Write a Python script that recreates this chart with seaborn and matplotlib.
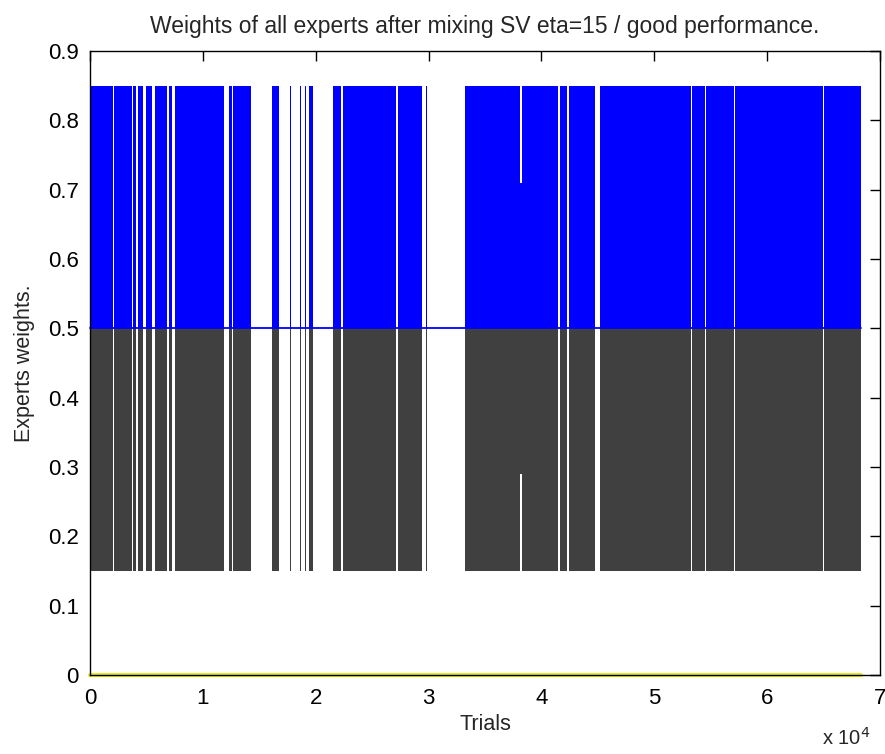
import matplotlib
matplotlib.use("Agg")
import matplotlib.pyplot as plt
import numpy as np
import pandas as pd
import seaborn as sns

# ---- data (trials) ----
seg_start = [0, 2130, 3810, 4250, 4920, 5760, 7000, 7530, 12320, 12670,
             16130, 17680, 18650, 19010, 19410, 21530, 22420, 27250, 29770,
             33230, 38060, 38280, 41650, 42440, 45190, 53340, 54580, 57150, 65080]
seg_end = [2000, 3680, 4120, 4740, 5490, 6820, 7270, 11870, 12540, 14270,
           16750, 17770, 18740, 19100, 19760, 22240, 27120, 29420, 29860,
           38060, 38280, 41510, 42310, 44790, 53210, 54450, 57020, 64910, 68320]
blue_top = [0.85, 0.85, 0.85, 0.85, 0.85, 0.85, 0.85, 0.85, 0.85, 0.85,
            0.85, 0.85, 0.85, 0.85, 0.85, 0.85, 0.85, 0.85, 0.85,
            0.85, 0.71, 0.85, 0.85, 0.85, 0.85, 0.85, 0.85, 0.85, 0.85]
gray_bottom = [0.15, 0.15, 0.15, 0.15, 0.15, 0.15, 0.15, 0.15, 0.15, 0.15,
               0.15, 0.15, 0.15, 0.15, 0.15, 0.15, 0.15, 0.15, 0.15,
               0.15, 0.29, 0.15, 0.15, 0.15, 0.15, 0.15, 0.15, 0.15, 0.15]
mid_level = 0.5
trial_range = [0, 68320]
low_level = [0.0, 0.0]
xtick_vals = [0, 10000, 20000, 30000, 40000, 50000, 60000, 70000]
xtick_labels = ["0", "1", "2", "3", "4", "5", "6", "7"]
ytick_vals = [0, 0.1, 0.2, 0.3, 0.4, 0.5, 0.6, 0.7, 0.8, 0.9]
ytick_labels = ["0", "0.1", "0.2", "0.3", "0.4", "0.5", "0.6", "0.7", "0.8", "0.9"]

sns.set_style("white")
plt.rcParams["font.family"] = ["Liberation Sans", "DejaVu Sans"]

fig = plt.figure(figsize=(8.85, 7.54), dpi=100)
ax = fig.add_axes([90 / 885, 79 / 754, 790 / 885, 624 / 754])

starts = np.array(seg_start, dtype=float)
ends = np.array(seg_end, dtype=float)
widths = ends - starts
bt = np.array(blue_top)
gb = np.array(gray_bottom)

ax.bar(starts, bt - mid_level, bottom=mid_level, width=widths, align="edge",
       color="#0000ff", linewidth=0, zorder=2)
ax.bar(starts, mid_level - gb, bottom=gb, width=widths, align="edge",
       color="#404040", linewidth=0, zorder=2)

lines = pd.DataFrame({"trial": trial_range + trial_range,
                      "w": [mid_level, mid_level] + low_level,
                      "expert": ["mid", "mid", "low", "low"]})
sns.lineplot(data=lines, x="trial", y="w", hue="expert",
             palette={"mid": "#0000ff", "low": "#e8e830"},
             linewidth=1.3, legend=False, ax=ax, zorder=3, clip_on=False)
for ln in ax.lines:
    if ln.get_ydata()[0] == 0:
        ln.set_linewidth(3.0)

ax.set_xlim(0, 70000)
ax.set_ylim(0, 0.9)
ax.set_xticks(xtick_vals)
ax.set_xticklabels(xtick_labels)
ax.set_yticks(ytick_vals)
ax.set_yticklabels(ytick_labels)
ax.tick_params(direction="in", length=7, width=1, top=True, right=True,
               labelsize=16, pad=8, colors="black")
ax.tick_params(axis="x", pad=9)
for s in ax.spines.values():
    s.set_color("black")
    s.set_linewidth(1)
    s.set_zorder(4)

ax.set_title("Weights of all experts after mixing SV eta=15 / good performance.",
             fontsize=16.5, pad=13)
ax.set_xlabel("Trials", fontsize=15.5, labelpad=4)
ax.set_ylabel("Experts weights.", fontsize=15.5, labelpad=9)
fig.text(870 / 885, 5 / 754, r"x 10$^{4}$", ha="right", va="bottom", fontsize=14.5)

fig.savefig("out.png", dpi=100, facecolor="white")
